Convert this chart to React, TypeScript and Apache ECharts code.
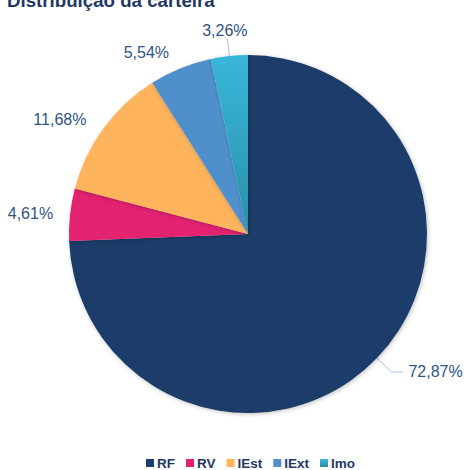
import React, { useEffect, useRef } from "react";
import * as echarts from "echarts";

const categories = ["RF", "RV", "IEst", "IExt", "Imo"];
const values = [72.87, 4.61, 11.68, 5.54, 3.26];
const colors = ["#1b3d6b", "#e3206f", "#fdb45c", "#4f8fcb", "#36b4d6"];
const lineLen = [20, 12, 15, 17, 17];
const lineLen2 = [12, 0, 0, 0, 1];
const showLine = [true, false, false, false, true];
const labelShift = [
  [0, 0],
  [0, 0],
  [0, 0],
  [0, 0],
  [26, -9],
];

const fmt = (v: number) => v.toFixed(2).replace(".", ",") + "%";

export default function App() {
  const ref = useRef<HTMLDivElement>(null);
  useEffect(() => {
    if (!ref.current) return;
    const chart = echarts.init(ref.current, null, { renderer: "svg" });
    const font = "'Liberation Sans', Arial, sans-serif";
    chart.setOption({
      animation: false,
      title: {
        text: "Distribuição da carteira",
        left: 7,
        top: -9,
        padding: 0,
        textStyle: { fontSize: 18.7, fontWeight: "bold", color: "#1f3864", fontFamily: font },
      },
      legend: {
        bottom: 0,
        left: 146,
        padding: 0,
        itemWidth: 8,
        itemHeight: 8,
        itemGap: 11,
        icon: "rect",
        data: categories,
        textStyle: { fontSize: 13.5, fontWeight: "bold", color: "#1f3864", fontFamily: font, padding: [0, 0, 0, -2] },
      },
      series: [
        {
          type: "pie",
          center: [248, 234],
          radius: 179,
          startAngle: 90,
          clockwise: true,
          avoidLabelOverlap: false,
          label: {
            show: true,
            position: "outside",
            fontSize: 16,
            color: "#2f5383",
            fontFamily: font,
            formatter: (p: any) => fmt(p.value),
          },
          labelLine: { lineStyle: { color: "#a6c4e4", width: 1 } },
          labelLayout: (p: any) => ({ dx: labelShift[p.dataIndex][0], dy: labelShift[p.dataIndex][1] }),
          itemStyle: {
            shadowBlur: 4,
            shadowColor: "rgba(0,0,0,0.25)",
            shadowOffsetX: 1,
            shadowOffsetY: 1,
          },
          data: categories.map((name, i) => ({
            name,
            value: values[i],
            itemStyle: {
              color:
                i === 4
                  ? new echarts.graphic.LinearGradient(0, 0, 0, 1, [
                      { offset: 0, color: "#38b7d9" },
                      { offset: 1, color: "#2a8fa9" },
                    ])
                  : colors[i],
            },
            labelLine: { show: showLine[i], length: lineLen[i], length2: lineLen2[i] },
          })),
        },
      ],
      color: colors,
    });
    return () => chart.dispose();
  }, []);
  return (
    <div
      ref={ref}
      style={{ position: "fixed", left: 0, top: 0, width: 466, height: 470, background: "#fff" }}
    />
  );
}
